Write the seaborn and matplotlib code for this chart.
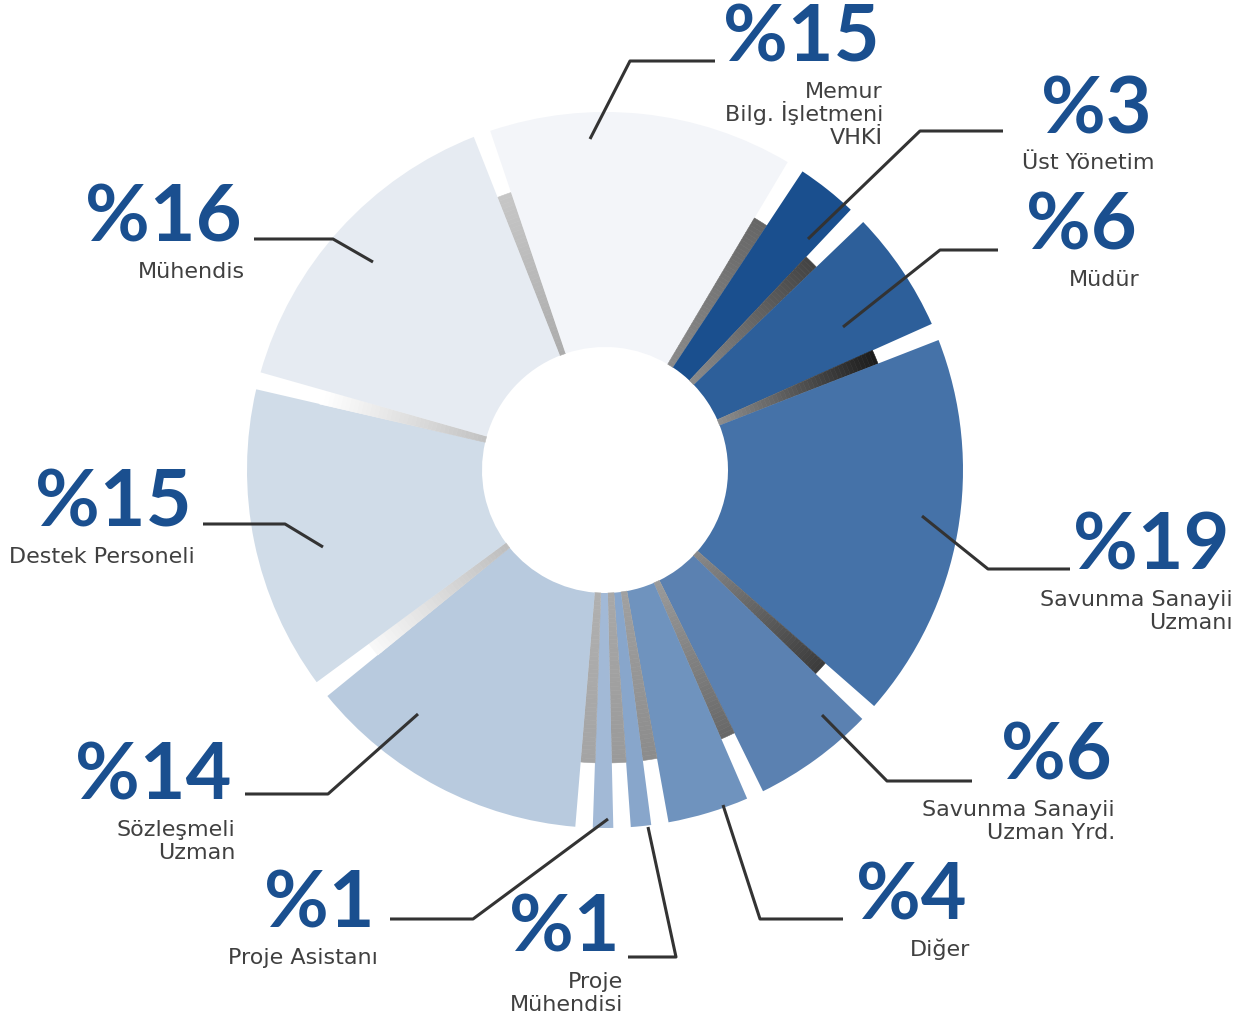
import numpy as np
import matplotlib
matplotlib.use("Agg")
import matplotlib.pyplot as plt
import seaborn as sns

# personnel distribution (clockwise from the top)
categories = ["Memur\nBilg. İşletmeni\nVHKİ", "Üst Yönetim", "Müdür",
              "Savunma Sanayii\nUzmanı", "Savunma Sanayii\nUzman Yrd.", "Diğer",
              "Proje\nMühendisi", "Proje Asistanı", "Sözleşmeli\nUzman",
              "Destek Personeli", "Mühendis"]
shares = [15, 3, 6, 19, 6, 4, 1, 1, 14, 15, 16]

slice_colors = ["#f3f5f9", "#1a4f8e", "#2d5f9a", "#4572a8", "#5b81b1", "#6f93be",
                "#88a6cb", "#a2b9d6", "#b8cade", "#d0dce8", "#e6ebf2"]
# shadow strip on the counter-clockwise side of every slice: (outer, inner) colour
strip_colors = [("#c6c6c6", "#acacac"), ("#666666", "#8a8a8a"), ("#444444", "#8a8a8a"),
                ("#1c1c1c", "#8c8c8c"), ("#3c3c3c", "#888888"), ("#686868", "#9a9a9a"),
                ("#8c8c8c", "#a0a0a0"), ("#9a9a9a", "#a8a8a8"), ("#a4a4a4", "#b0b0b0"),
                ("#f8f8f8", "#bebebe"), ("#ffffff", "#c2c2c2")]

# label layout in pixels: (right x, baseline y of the big number), leader line
label_pos = [(880, 62), (1152, 133), (1137, 250), (1230, 570), (1112, 780), (967, 920),
             (620, 952), (375, 928), (232, 800), (192, 527), (242, 242)]
leaders = [[(590, 140), (630, 62), (715, 62)],
           [(808, 240), (920, 132), (1003, 132)],
           [(843, 328), (940, 251), (998, 251)],
           [(922, 517), (988, 570), (1070, 570)],
           [(822, 716), (887, 782), (972, 782)],
           [(723, 806), (760, 920), (843, 920)],
           [(648, 828), (676, 958), (628, 958)],
           [(608, 820), (473, 920), (390, 920)],
           [(418, 715), (328, 795), (245, 795)],
           [(323, 548), (285, 525), (203, 525)],
           [(373, 263), (333, 240), (254, 240)]]

BLUE = "#1a4f8f"
GREY = "#404040"

sns.set_theme(style="white")
plt.rcParams["font.family"] = ["Lato", "DejaVu Sans"]

W, H = 1239, 1020
fig = plt.figure(figsize=(W / 100, H / 100), dpi=100)

# polar axes in pixel units, centre at (605, 471)
cx, cy, half = 605, 471, 400
ax = fig.add_axes([(cx - half) / W, (H - cy - half) / H, 2 * half / W, 2 * half / H],
                  projection="polar")
ax.set_theta_zero_location("N")
ax.set_theta_direction(-1)
ax.set_ylim(0, half)
ax.set_axis_off()

r_in, r_strip, r_out = 123, 293, 358
strip_deg = 2.8
start_deg = -21.5
deg_per_pct = (360 - strip_deg * len(shares)) / sum(shares)

n_seg = 40
seg_edges = np.linspace(r_in, r_strip, n_seg + 1)
a = start_deg
for share, col, (c_out, c_in) in zip(shares, slice_colors, strip_colors):
    # gradient strip
    grad = sns.blend_palette([c_in, c_out], n_colors=n_seg)
    th = np.deg2rad(a + strip_deg / 2)
    ax.bar([th] * n_seg, np.diff(seg_edges), width=np.deg2rad(strip_deg) * 1.01,
           bottom=seg_edges[:-1], color=grad, edgecolor=grad, linewidth=0.4)
    a += strip_deg
    w = share * deg_per_pct
    ax.bar(np.deg2rad(a + w / 2), r_out - r_in, width=np.deg2rad(w), bottom=r_in,
           color=col, edgecolor="none", linewidth=0)
    a += w

# overlay for labels and leader lines
ov = fig.add_axes([0, 0, 1, 1])
ov.set_xlim(0, W)
ov.set_ylim(H, 0)
ov.set_axis_off()
ov.patch.set_alpha(0)

for share, name, (x, y), pts in zip(shares, categories, label_pos, leaders):
    xs, ys = zip(*pts)
    ov.plot(xs, ys, color="#333333", lw=2.2, solid_capstyle="butt")
    ov.text(x, y, f"%{share}", ha="right", va="baseline", color=BLUE,
            fontsize=57, fontweight="bold")
    for i, line in enumerate(name.split("\n")):
        ov.text(x + 3, y + 36 + i * 23, line, ha="right", va="baseline",
                color=GREY, fontsize=16, family=["DejaVu Sans"])

fig.savefig("out.png", dpi=100)
